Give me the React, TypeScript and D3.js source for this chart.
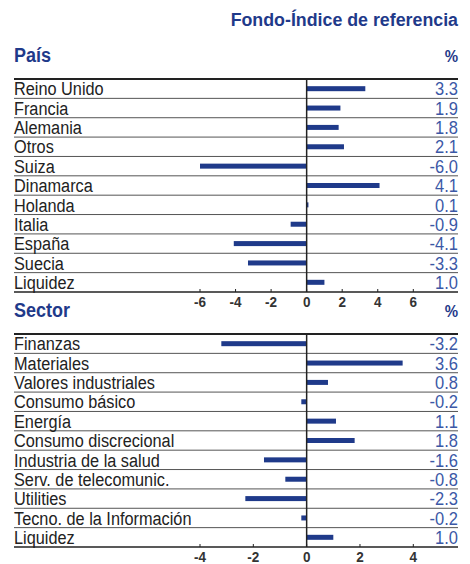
import React from 'react'
import * as d3 from 'd3'

const countryNames = ['Reino Unido', 'Francia', 'Alemania', 'Otros', 'Suiza', 'Dinamarca', 'Holanda', 'Italia', 'España', 'Suecia', 'Liquidez']
const countryValues = [3.3, 1.9, 1.8, 2.1, -6.0, 4.1, 0.1, -0.9, -4.1, -3.3, 1.0]
const countryTicks = [-6, -4, -2, 0, 2, 4, 6]

const sectorNames = ['Finanzas', 'Materiales', 'Valores industriales', 'Consumo básico', 'Energía', 'Consumo discrecional', 'Industria de la salud', 'Serv. de telecomunic.', 'Utilities', 'Tecno. de la Información', 'Liquidez']
const sectorValues = [-3.2, 3.6, 0.8, -0.2, 1.1, 1.8, -1.6, -0.8, -2.3, -0.2, 1.0]
const sectorTicks = [-4, -2, 0, 2, 4]

const BLUE = '#1f3a8a'
const VALUE_BLUE = '#3b58a6'
const FONT = '"Liberation Sans", Arial, sans-serif'

const left = 14
const right = 458

// slightly tall text, like the condensed face of the original
function Tall({ x, y, anchor = 'start', fill, size, weight = 'normal', children }) {
  return (
    <text transform={`translate(${x},${y}) scale(1,1.08)`} textAnchor={anchor} fill={fill}
      fontFamily={FONT} fontSize={size} fontWeight={weight}>{children}</text>
  )
}

function Panel({ names, values, ticks, title, top, bottom, headY }) {
  const y = d3.scaleBand().domain(names).range([top, bottom]).paddingInner(0)
  const ext = d3.extent(ticks)
  const x = d3.scaleLinear().domain(ext).range([200, 413.3])
  const barH = 5

  return (
    <g>
      <Tall x={left} y={headY} fill={BLUE} weight="bold" size={18}>{title}</Tall>
      <Tall x={right} y={headY} anchor="end" fill={BLUE} weight="bold" size={15}>%</Tall>

      {/* row separators */}
      {names.slice(1).map((n) => (
        <line key={'s' + n} x1={left} x2={right} y1={y(n)} y2={y(n)} stroke="#555" strokeWidth={1} />
      ))}
      <line x1={left} x2={right} y1={top} y2={top} stroke="#222" strokeWidth={2} />

      {names.map((n, i) => {
        const v = values[i]
        const cy = y(n) + y.bandwidth() / 2
        const base = y(n) + y.bandwidth() - 3
        return (
          <g key={n}>
            <Tall x={left} y={base} fill="#222" size={16.3}>{n}</Tall>
            <rect x={Math.min(x(0), x(v))} y={cy - barH / 2} width={Math.abs(x(v) - x(0))} height={barH} fill={BLUE} />
            <Tall x={right} y={base} anchor="end" fill={VALUE_BLUE} size={16.5}>{v.toFixed(1)}</Tall>
          </g>
        )
      })}

      {/* axis */}
      <line x1={left} x2={right} y1={bottom} y2={bottom} stroke="#222" strokeWidth={1.5} />
      <line x1={x(0)} x2={x(0)} y1={top} y2={bottom} stroke="#222" strokeWidth={1.5} />
      {ticks.map((t) => (
        <g key={'t' + t}>
          <line x1={x(t)} x2={x(t)} y1={bottom - 3} y2={bottom} stroke="#222" strokeWidth={1} />
          <Tall x={x(t)} y={bottom + 15} anchor="middle" fill="#333" weight="bold" size={13.5}>{t}</Tall>
        </g>
      ))}
    </g>
  )
}

export default function App() {
  return (
    <svg width={470} height={564} style={{ position: 'absolute', left: 0, top: 0, background: '#fff' }}>
      <Tall x={right} y={26} anchor="end" fill={BLUE} weight="bold" size={17.8}>Fondo-Índice de referencia</Tall>
      <Panel names={countryNames} values={countryValues} ticks={countryTicks} title="País" top={79} bottom={292} headY={62} />
      <Panel names={sectorNames} values={sectorValues} ticks={sectorTicks} title="Sector" top={334} bottom={547} headY={317} />
    </svg>
  )
}
